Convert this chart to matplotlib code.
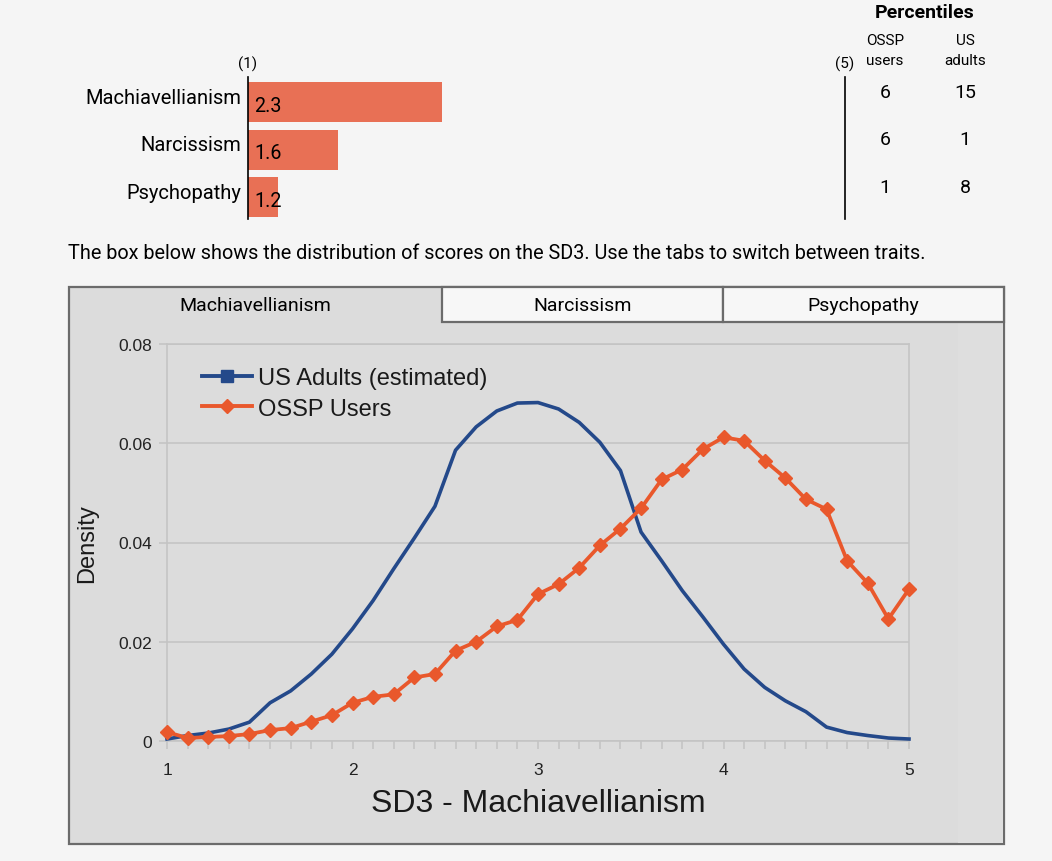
import matplotlib
matplotlib.use("Agg")
import matplotlib.pyplot as plt
import matplotlib.transforms as mtransforms
from matplotlib.patches import Rectangle
from matplotlib.lines import Line2D
import numpy as np

# ---- data ----
traits = ["Machiavellianism", "Narcissism", "Psychopathy"]
trait_scores = [2.3, 1.6, 1.2]
pct_ossp = [6, 6, 1]
pct_us = [15, 1, 8]

# SD3 scores come in steps of 1/9 (9 items per trait)
score_steps = np.arange(37)
us_adults = [0.0004, 0.0011, 0.0016, 0.0024, 0.0038, 0.0077, 0.0101, 0.0135, 0.0175,
             0.0226, 0.0283, 0.0347, 0.0409, 0.0473, 0.0586, 0.0633, 0.0665, 0.0681,
             0.0682, 0.0669, 0.0642, 0.0602, 0.0545, 0.0421, 0.0363, 0.0303, 0.0250,
             0.0195, 0.0145, 0.0108, 0.0081, 0.0059, 0.0028, 0.0017, 0.0011, 0.0006,
             0.0004]
ossp_users = [0.0018, 0.0006, 0.0008, 0.0010, 0.0014, 0.0022, 0.0026, 0.0039, 0.0052,
              0.0077, 0.0089, 0.0094, 0.0128, 0.0135, 0.0182, 0.0200, 0.0231, 0.0244,
              0.0296, 0.0316, 0.0349, 0.0394, 0.0428, 0.0469, 0.0527, 0.0547, 0.0588,
              0.0612, 0.0605, 0.0565, 0.0530, 0.0487, 0.0467, 0.0363, 0.0318, 0.0246,
              0.0306]
tabs = ["Machiavellianism", "Narcissism", "Psychopathy"]

W, H = 1052, 862
PAGE_BG = "#f5f5f5"
BOX_BG = "#dcdcdc"
BAR_COLOR = "#e87055"
BLUE = "#24498a"
ORANGE = "#e9582c"
UI_FONT = "Roboto"
CHART_FONT = "Liberation Sans"


def px_rect(x0, y0, x1, y1):
    return [x0 / W, 1 - y1 / H, (x1 - x0) / W, (y1 - y0) / H]


fig = plt.figure(figsize=(W / 100, H / 100), dpi=100)
fig.patch.set_facecolor(PAGE_BG)

# background axes in pixel coords for the page decorations
bg = fig.add_axes([0, 0, 1, 1], zorder=0)
bg.set_xlim(0, W)
bg.set_ylim(H, 0)
bg.axis("off")

# ---- top bar summary ----
axb = fig.add_axes(px_rect(248, 78, 845, 220), zorder=1)
axb.patch.set_alpha(0)
ypos = np.arange(len(traits))
axb.barh(ypos, [s - 1 for s in trait_scores], left=1, height=0.84, color=BAR_COLOR)
axb.set_xlim(1, 5)
axb.set_ylim(2.46, -0.53)
for s in ["top", "bottom"]:
    axb.spines[s].set_visible(False)
for s in ["left", "right"]:
    axb.spines[s].set_color("black")
    axb.spines[s].set_linewidth(1.2)
axb.set_xticks([])
axb.set_yticks([])
for i, name in enumerate(traits):
    axb.text(0.955, i - 0.1, name, fontsize=14.5, family=UI_FONT, va="center", ha="right")
for i, s in enumerate(trait_scores):
    axb.text(1.04, i + 0.06, f"{s}", fontsize=14.2, family=UI_FONT, va="center", ha="left")
axb.text(1, 1.04, "(1)", transform=axb.get_xaxis_transform(), ha="center", va="bottom",
         fontsize=11, family=UI_FONT)
axb.text(5, 1.04, "(5)", transform=axb.get_xaxis_transform(), ha="center", va="bottom",
         fontsize=11, family=UI_FONT)

# percentiles
trans = mtransforms.blended_transform_factory(fig.transFigure, axb.transData)
for i in range(len(traits)):
    fig.text(885 / W, i - 0.22, str(pct_ossp[i]), transform=trans, ha="center", va="center",
             fontsize=14, family=UI_FONT)
    fig.text(965 / W, i - 0.22, str(pct_us[i]), transform=trans, ha="center", va="center",
             fontsize=14, family=UI_FONT)
bg.text(925, 13, "Percentiles", ha="center", va="center", fontsize=14, fontweight="bold",
        family=UI_FONT)
bg.text(885, 51, "OSSP\nusers", ha="center", va="center", fontsize=11, family=UI_FONT,
        linespacing=1.55)
bg.text(965, 51, "US\nadults", ha="center", va="center", fontsize=11, family=UI_FONT,
        linespacing=1.55)

bg.text(68, 254, "The box below shows the distribution of scores on the SD3. "
        "Use the tabs to switch between traits.", ha="left", va="center",
        fontsize=14.3, family=UI_FONT)

# ---- tabbed box ----
bg.add_patch(Rectangle((69, 288), 935, 557, facecolor=BOX_BG, edgecolor="#6b6b6b", lw=1.6))
bg.add_patch(Rectangle((958, 324), 45, 520, facecolor="#dedede", edgecolor="none"))
tab_w = [373, 281, 281]
tx = 69
for i, name in enumerate(tabs):
    if i > 0:
        bg.add_patch(Rectangle((tx, 288), tab_w[i], 35, facecolor="#f7f7f7",
                               edgecolor="#6b6b6b", lw=1.6))
    bg.text(tx + tab_w[i] / 2, 306, name, ha="center", va="center", fontsize=14,
            family=UI_FONT)
    tx += tab_w[i]

# ---- density chart ----
ax = fig.add_axes(px_rect(167, 345, 909, 742), zorder=2)
ax.set_facecolor(BOX_BG)
x = 1 + score_steps / 9
ax.plot(x, us_adults, color=BLUE, lw=2.6, clip_on=False, zorder=3)
ax.plot(x, ossp_users, color=ORANGE, lw=2.7, marker="D", markersize=7.5, clip_on=False,
        zorder=4)
ax.set_xlim(1, 5)
ax.set_ylim(0, 0.08)
ax.set_yticks([0, 0.02, 0.04, 0.06, 0.08])
ax.set_yticklabels(["0", "0.02", "0.04", "0.06", "0.08"])
ax.set_xticks([1, 2, 3, 4, 5])
ax.set_xticks(x, minor=True)
ax.grid(axis="y", color="#c4c4c4", lw=1.2)
ax.set_axisbelow(True)
for s in ax.spines.values():
    s.set_color("#c4c4c4")
    s.set_linewidth(1.2)
ax.tick_params(axis="both", which="both", color="#c4c4c4", width=1.2, length=6,
               labelsize=12.5, labelcolor="#222222")
ax.tick_params(axis="x", which="both", pad=9)
ax.tick_params(axis="y", pad=5)
for lab in ax.get_xticklabels() + ax.get_yticklabels():
    lab.set_family(CHART_FONT)
ax.set_xlabel("SD3 - Machiavellianism", fontsize=23, family=CHART_FONT, color="#1a1a1a",
              labelpad=8)
ax.set_ylabel("Density", fontsize=17, family=CHART_FONT, color="#1a1a1a", labelpad=14)

handles = [Line2D([], [], color=BLUE, lw=2.8, marker="s", markersize=8.5),
           Line2D([], [], color=ORANGE, lw=2.8, marker="D", markersize=7.5)]
leg = ax.legend(handles, ["US Adults (estimated)", "OSSP Users"], loc="upper left",
                bbox_to_anchor=(0.035, 0.965), frameon=False, handlelength=2.1,
                handletextpad=0.25, labelspacing=0.35, borderaxespad=0,
                prop={"family": CHART_FONT, "size": 17})
for t in leg.get_texts():
    t.set_color("#1a1a1a")

fig.savefig("out.png", dpi=100, facecolor=PAGE_BG)
